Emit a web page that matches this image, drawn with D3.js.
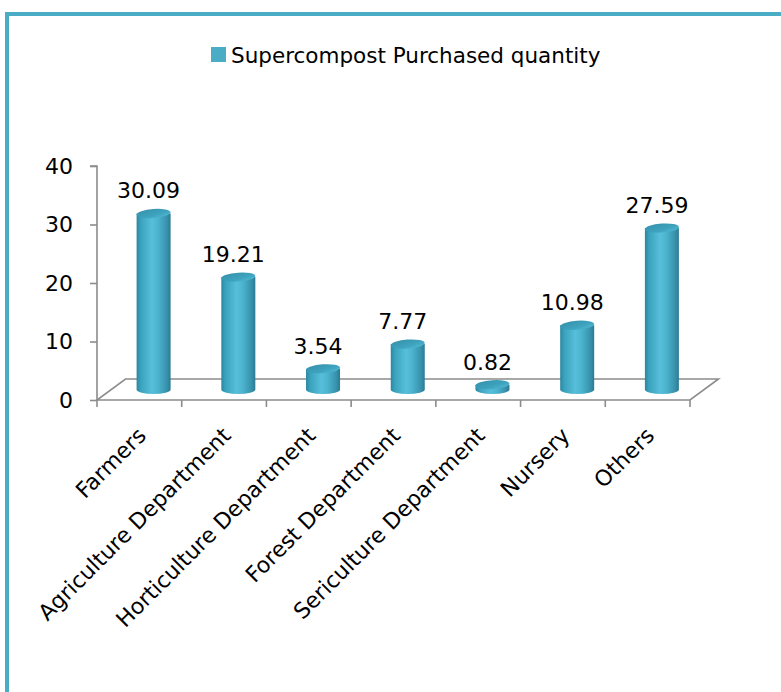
<!DOCTYPE html>
<html><head><meta charset="utf-8">
<script src="https://cdn.jsdelivr.net/npm/d3@7"></script>
<style>body{margin:0;background:#fff}svg{display:block}text{font-family:"DejaVu Sans",sans-serif;fill:#000}</style>
</head><body><svg id="c" width="781" height="692"></svg>
<script>
const categories = ["Farmers","Agriculture Department","Horticulture Department","Forest Department","Sericulture Department","Nursery","Others"];
const values = [30.09,19.21,3.54,7.77,0.82,10.98,27.59];
const yTicks = [0,10,20,30,40];
const seriesName = "Supercompost Purchased quantity";

const svg = d3.select("#c");
const W=781,H=692;
svg.append("rect").attr("width",W).attr("height",H).attr("fill","#fff");
// frame
svg.append("rect").attr("x",5).attr("y",12).attr("width",W-5).attr("height",4).attr("fill","#4bacc6");
svg.append("rect").attr("x",5).attr("y",12).attr("width",4).attr("height",H-12).attr("fill","#4bacc6");

const x = d3.scaleBand().domain(categories).range([97,690]).paddingInner(0).paddingOuter(0);
const y = d3.scaleLinear().domain([0,40]).range([400,166]);
const depthX=28.5, depthY=-21;

const defs = svg.append("defs");
const g1 = defs.append("linearGradient").attr("id","body").attr("x1","0").attr("x2","1").attr("y1","0").attr("y2","0");
[["0%","#2b86a0"],["12%","#3aa2bd"],["45%","#57bfd9"],["62%","#4db4cf"],["88%","#3893ad"],["100%","#2a7b92"]]
  .forEach(s=>g1.append("stop").attr("offset",s[0]).attr("stop-color",s[1]));
const g2 = defs.append("linearGradient").attr("id","top").attr("x1","0").attr("x2","1").attr("y1","0").attr("y2","1");
[["0%","#3590aa"],["60%","#3ea3be"],["100%","#55bcd6"]]
  .forEach(s=>g2.append("stop").attr("offset",s[0]).attr("stop-color",s[1]));

const axisColor="#8c8c8c";
// floor
const floor = svg.append("g").attr("stroke",axisColor).attr("stroke-width",1.6).attr("fill","none");
floor.append("path").attr("d",`M${x.range()[0]},${y(0)} L${x.range()[1]},${y(0)} L${x.range()[1]+depthX},${y(0)+depthY} L${x.range()[0]+depthX},${y(0)+depthY} Z`);
// category ticks
floor.selectAll("line.ct").data(categories.concat(["__end"])).join("line")
  .attr("x1",(d,i)=>x.range()[0]+i*x.bandwidth()).attr("x2",(d,i)=>x.range()[0]+i*x.bandwidth())
  .attr("y1",y(0)).attr("y2",y(0)+7);
// y axis
const ya = svg.append("g").attr("transform",`translate(${x.range()[0]},0)`)
  .call(d3.axisLeft(y).tickValues(yTicks).tickSize(7).tickPadding(17).tickFormat(d3.format("d")));
ya.select(".domain").attr("stroke",axisColor).attr("stroke-width",1.6).attr("d",`M-7,${y(40)}H0V${y(0)}`);
ya.selectAll(".tick line").attr("stroke",axisColor).attr("stroke-width",1.6);
ya.selectAll(".tick text").attr("font-size",22).attr("font-family","DejaVu Sans").attr("fill","#000");

// cylinders
const rx=17, ry=4.5;
const bars = svg.append("g").selectAll("g").data(values).join("g");
bars.each(function(v,i){
  const g=d3.select(this);
  const cx = x(categories[i])+x.bandwidth()/2+depthX/2;
  const base = y(0)+depthY/2;
  const top = y(v)+depthY/2;
  g.append("path").attr("fill","url(#body)")
    .attr("d",`M${cx-rx},${top} L${cx-rx},${base} A${rx},${ry} 0 0 0 ${cx+rx},${base} L${cx+rx},${top} Z`);
  g.append("ellipse").attr("cx",cx).attr("cy",top).attr("rx",rx).attr("ry",ry)
    .attr("fill","url(#top)").attr("transform",`rotate(-4,${cx},${top})`);
  g.append("text").attr("x",cx-5).attr("y",top-15).attr("text-anchor","middle")
    .attr("font-size",22).text(v.toFixed(2));
});

// x labels
svg.append("g").selectAll("text").data(categories).join("text")
  .attr("text-anchor","end").attr("font-size",22)
  .attr("transform",d=>`translate(${x(d)+x.bandwidth()/2+8},${y(0)+37}) rotate(-45)`)
  .text(d=>d);

// legend
const lg = svg.append("g");
lg.append("rect").attr("x",211).attr("y",47).attr("width",15).attr("height",15).attr("fill","#4bacc6");
lg.append("text").attr("x",231).attr("y",63).attr("font-size",21.5).text(seriesName);
</script></body></html>
